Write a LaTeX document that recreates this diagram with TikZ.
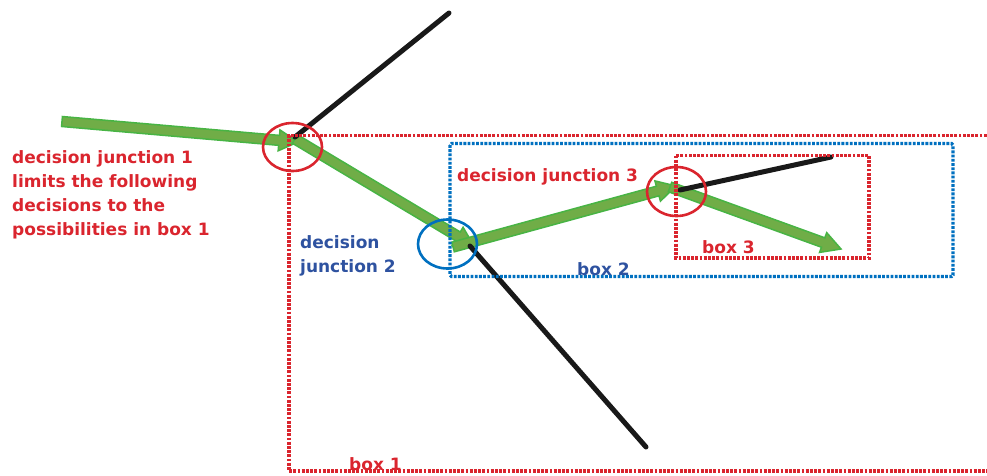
\documentclass[tikz,border=0pt]{standalone}
\usepackage{fontspec}
\setmainfont{DejaVu Sans}
\usetikzlibrary{calc,shapes.geometric}
\definecolor{tred}{RGB}{218,37,46}
\definecolor{tblue}{RGB}{46,82,160}
\definecolor{lblue}{RGB}{0,112,192}
\definecolor{gfill}{RGB}{112,173,71}
\definecolor{gedge}{RGB}{72,180,68}
\tikzset{
  lbl/.style={font=\bfseries\fontsize{17}{24}\selectfont, anchor=base west, inner sep=0pt, align=left},
  redlbl/.style={lbl, text=tred},
  bluelbl/.style={lbl, text=tblue},
  ring/.style={line width=2.6pt, ellipse, inner sep=0pt, minimum width=59pt, minimum height=49pt},
  blackline/.style={line width=5pt, line cap=round, draw=black!90},
  dotbox/.style={line width=3.2pt, dash pattern=on 2.8pt off 1.4pt},
  garrow/.style={fill=gfill, draw=gedge, line width=1.5pt, line join=miter}
}
\newcommand\greenarrow[2]{%
  \coordinate (ahb) at ($(#2)!19pt!(#1)$);
  \draw[garrow] ($(#1)!5pt!90:(#2)$) -- ($(ahb)!5pt!90:(#2)$) -- ($(ahb)!10.5pt!90:(#2)$) -- (#2)
    -- ($(ahb)!10.5pt!-90:(#2)$) -- ($(ahb)!5pt!-90:(#2)$) -- ($(#1)!5pt!-90:(#2)$) -- cycle;}
\begin{document}
\begin{tikzpicture}[x=1pt,y=-1pt]
\useasboundingbox (0,0) rectangle (987,475);
% key points
\coordinate (s0) at (62,121.5);
\coordinate (t1) at (298,142);
\coordinate (s2) at (295,139);
\coordinate (t2) at (474,246);
\coordinate (s3) at (453,247);
\coordinate (t3) at (676,186);
\coordinate (s4) at (670,187);
\coordinate (t4) at (841,249);
% green arrows
\greenarrow{s0}{t1}
\greenarrow{s2}{t2}
\greenarrow{s3}{t3}
\greenarrow{s4}{t4}
% black lines
\coordinate (b1a) at (295,137); \coordinate (b1b) at (449,13);
\coordinate (b2a) at (470,246); \coordinate (b2b) at (646,447);
\coordinate (b3a) at (680,190); \coordinate (b3b) at (831,157);
\draw[blackline] (b1a) -- (b1b);
\draw[blackline] (b2a) -- (b2b);
\draw[blackline] (b3a) -- (b3b);
% boxes
\draw[dotbox, tred] (995,135.5) -- (289,135.5) -- (289,471) -- (995,471);
\draw[dotbox, lblue, rounded corners=1.5pt] (450,143.5) rectangle (953,276.5);
\draw[dotbox, tred] (676,155.5) rectangle (869,258);
% rings
\node[ring, draw=tred, minimum height=48pt] (r1) at (292.5,147) {};
\node[ring, draw=lblue] (r2) at (447.5,244) {};
\node[ring, draw=tred] (r3) at (676.5,191.5) {};
% labels (multi-line nodes: base = last line)
\node[redlbl] (l1) at (12,235.3) {decision junction 1\\limits the following\\decisions to the\\possibilities in box 1};
\node[bluelbl] (l2) at (300,272) {decision\\junction 2};
\node[redlbl] (l3) at (457,181.7) {decision junction 3};
\node[bluelbl] (lb2) at (577,275) {box 2};
\node[redlbl] (lb3) at (702,253) {box 3};
\node[redlbl] (lb1) at (349,470) {box 1};
\end{tikzpicture}
\end{document}
